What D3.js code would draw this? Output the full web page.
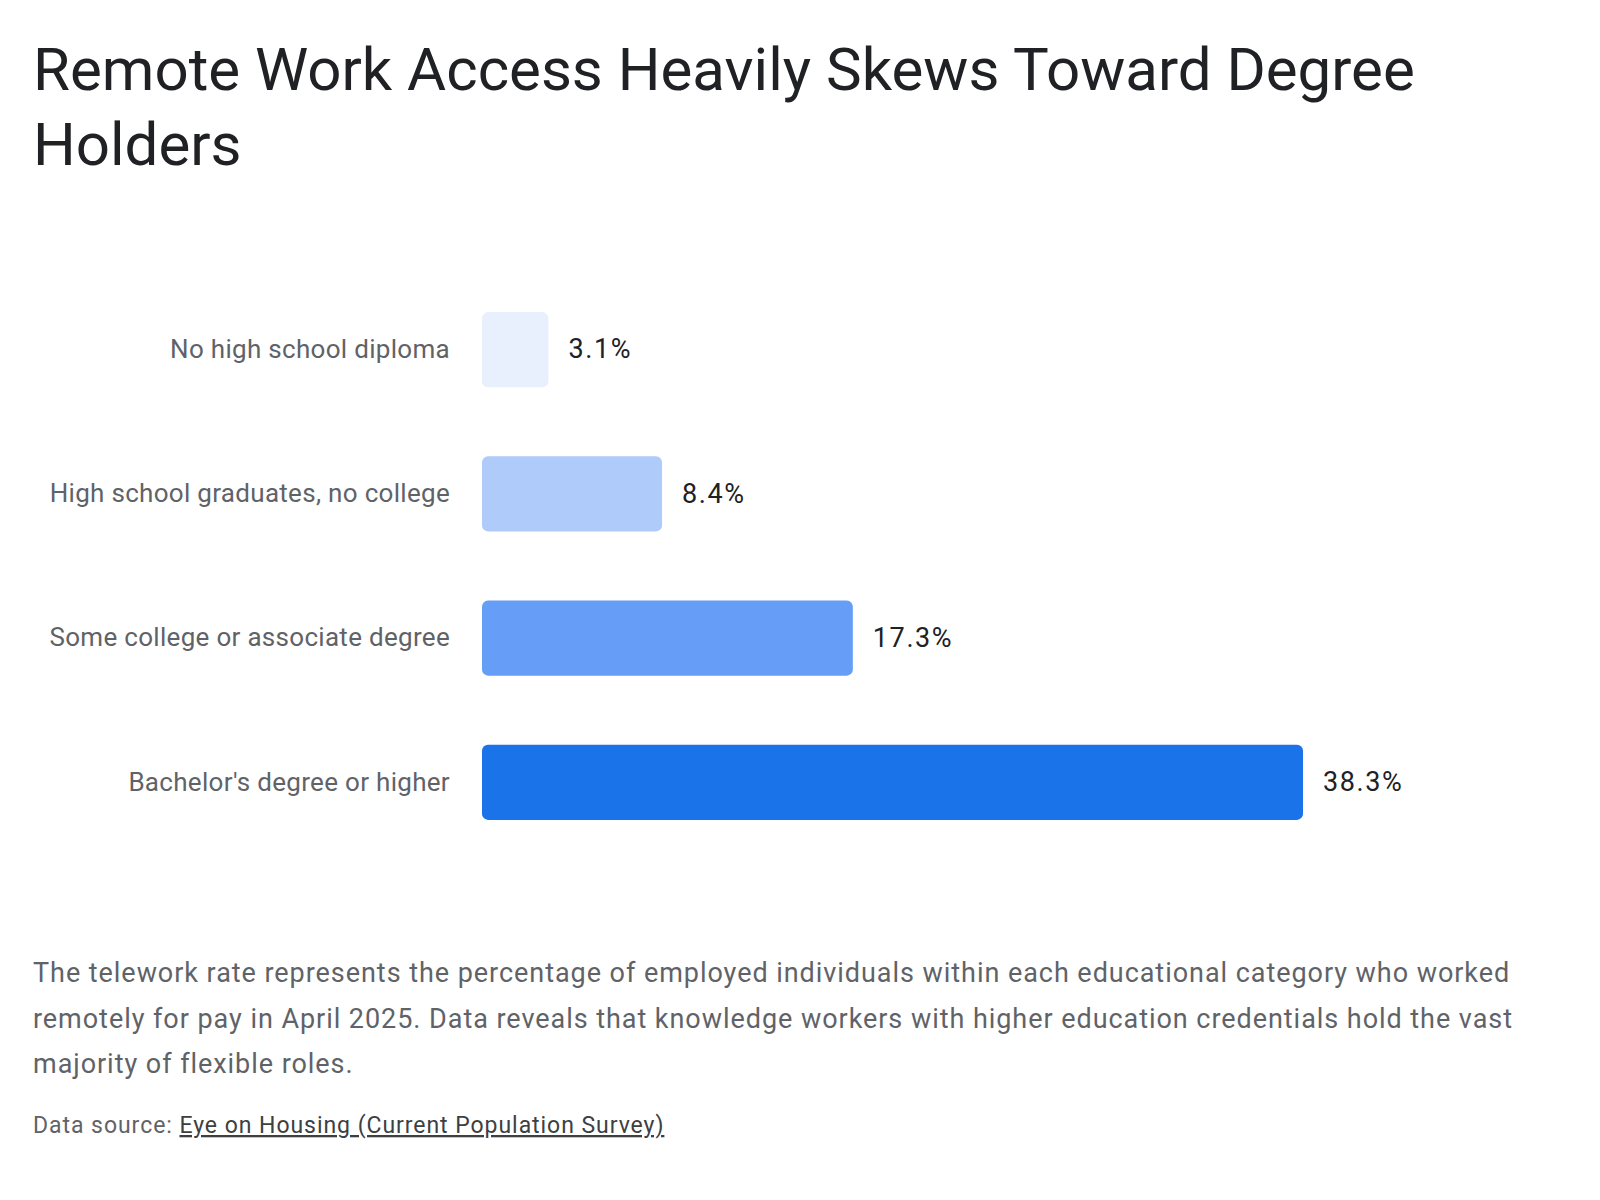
<!DOCTYPE html>
<html lang="en">
  <head>
    <meta charset="utf-8">
    <title>Remote Work Access</title>
    <script src="https://d3js.org/d3.v7.min.js"></script>
    <style>
      body { margin: 0; background: #fff; }
      text { font-family: Roboto, "Noto Sans", sans-serif; }
    </style>
  </head>
  <body>
    <div id="chart"></div>
    <script>

// data
var categories = [
  "No high school diploma",
  "High school graduates, no college",
  "Some college or associate degree",
  "Bachelor's degree or higher"
];
var rates = [3.1, 8.4, 17.3, 38.3];
var barColors = ["#e8f0fe", "#aecbfa", "#669df6", "#1a73e8"];

var titleLines = ["Remote Work Access Heavily Skews Toward Degree", "Holders"];
var noteLines = [
  "The telework rate represents the percentage of employed individuals within each educational category who worked",
  "remotely for pay in April 2025. Data reveals that knowledge workers with higher education credentials hold the vast",
  "majority of flexible roles."
];
var sourceLabel = "Data source: ";
var sourceLink = "Eye on Housing (Current Population Survey)";

//constants
var w = 1600;
var h = 1200;

var svg = d3.select("#chart")
  .append("svg")
    .attr("width", w)
    .attr("height", h);

// title
svg.append("text")
  .attr("x", 33)
  .attr("y", 90)
  .attr("fill", "#202124")
  .style("font-size", "60px")
  .selectAll("tspan")
  .data(titleLines)
  .enter()
  .append("tspan")
    .attr("x", 33)
    .attr("dy", (d, i) => i == 0 ? 0 : 75)
    .text(d => d);

//Scales
var yScale = d3.scaleBand()
  .domain(categories)
  .range([240, 892])
  .paddingInner(0.48)
  .paddingOuter(0.5);

var xScale = d3.scaleLinear()
  .domain([0, d3.max(rates)])
  .range([482, 1303]);

var rows = categories.map((c, i) => ({cat: c, val: rates[i], color: barColors[i]}));

svg.append("g")
  .selectAll("rect")
  .data(rows)
  .enter()
  .append("rect")
    .attr("x", xScale(0))
    .attr("y", d => yScale(d.cat))
    .attr("width", d => xScale(d.val) - xScale(0))
    .attr("height", yScale.bandwidth())
    .attr("rx", 6)
    .attr("fill", d => d.color);

// category labels
svg.append("g")
  .selectAll("text")
  .data(rows)
  .enter()
  .append("text")
    .attr("x", 450)
    .attr("y", d => yScale(d.cat) + yScale.bandwidth() / 2)
    .attr("dy", "0.32em")
    .attr("text-anchor", "end")
    .attr("fill", "#5f6368")
    .style("font-size", "26px")
    .style("letter-spacing", "0.3px")
    .text(d => d.cat);

// value labels
svg.append("g")
  .selectAll("text")
  .data(rows)
  .enter()
  .append("text")
    .attr("x", d => xScale(d.val) + 20)
    .attr("y", d => yScale(d.cat) + yScale.bandwidth() / 2)
    .attr("dy", "0.32em")
    .attr("fill", "#202124")
    .style("font-size", "27px")
    .style("letter-spacing", "1.6px")
    .text(d => d.val.toFixed(1) + "%");

// note
svg.append("text")
  .attr("fill", "#5f6368")
  .style("font-size", "27px")
  .style("letter-spacing", "0.95px")
  .selectAll("tspan")
  .data(noteLines)
  .enter()
  .append("tspan")
    .attr("x", 33)
    .attr("y", (d, i) => 982 + i * 45.5)
    .text(d => d);

// source
var src = svg.append("text")
  .attr("x", 33)
  .attr("y", 1133)
  .attr("fill", "#5f6368")
  .style("font-size", "23px")
  .style("letter-spacing", "0.95px");
src.append("tspan").text(sourceLabel);
src.append("tspan")
  .attr("text-decoration", "underline")
  .attr("fill", "#3c4043")
  .text(sourceLink);

    </script>
  </body>
</html>
